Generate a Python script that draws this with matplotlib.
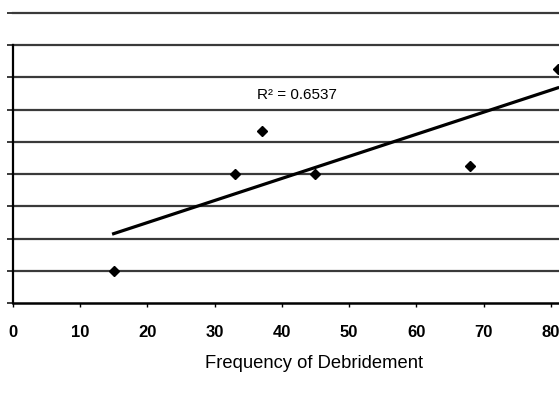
import numpy as np
import matplotlib
matplotlib.use("Agg")
import matplotlib.pyplot as plt

# Data
frequency = [15, 33, 37, 45, 68, 81]
outcome = [1.0, 4.0, 5.34, 4.0, 4.26, 7.27]
x_ticks = [0, 10, 20, 30, 40, 50, 60, 70, 80]
x_label = "Frequency of Debridement"
r2_label = "R² = 0.6537"

plt.rcParams['font.family'] = ['Liberation Sans', 'DejaVu Sans']

fig = plt.figure(figsize=(5.59, 3.96), dpi=100)
ax = fig.add_axes([0.0227, 0.2348, 0.9773, 0.7323])

# horizontal gridlines
for g in range(1, 10):
    ax.axhline(g, color='#3a3a3a', lw=1.6, zorder=1, clip_on=False)

# linear trend line
slope, intercept = np.polyfit(frequency, outcome, 1)
fit_x = np.array([min(frequency), max(frequency)])
ax.plot(fit_x, slope * fit_x + intercept, color='black', lw=2.3, zorder=3)

ax.text(36.3, 6.45, r2_label, fontsize=11, ha='left', va='center', zorder=4)

ax.plot(frequency, outcome, 'D', color='black', ms=5.5, zorder=5, clip_on=False)

ax.set_xlim(0, 81.2)
ax.set_ylim(0, 9)
ax.set_xticks(x_ticks)
ax.set_xticklabels([str(t) for t in x_ticks], fontsize=12, fontweight='bold')
ax.set_yticks(range(0, 10))
ax.set_yticklabels([])
ax.tick_params(axis='x', length=3, width=1, pad=13)
ax.tick_params(axis='y', length=4, width=1.4, color='#3a3a3a')
ax.set_xlabel(x_label, fontsize=13.2)
ax.xaxis.set_label_coords(0.552, -0.18)

for s in ['top', 'right']:
    ax.spines[s].set_visible(False)
ax.spines['left'].set_bounds(0, 8)
ax.spines['left'].set_linewidth(1.6)
ax.spines['bottom'].set_linewidth(1.8)

fig.savefig("out.png", dpi=100)
